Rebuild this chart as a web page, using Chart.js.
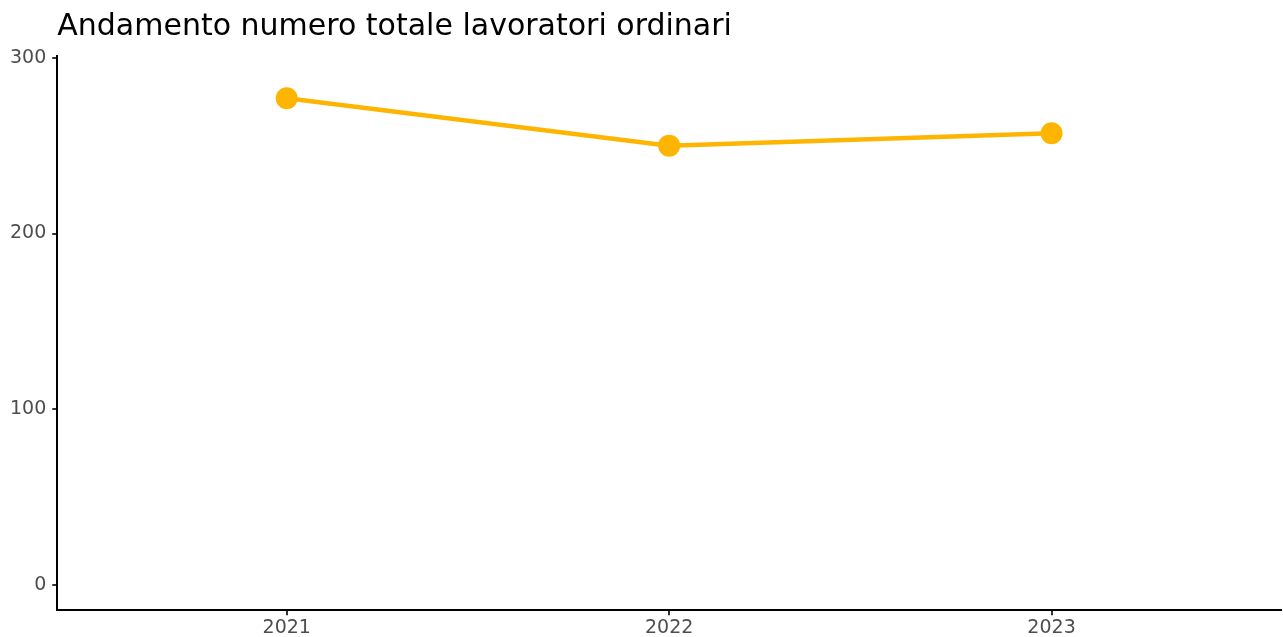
<!DOCTYPE html>
<html lang="it">

<head>
    <meta charset="UTF-8" />
    <title>Andamento numero totale lavoratori ordinari</title>
    <script src="https://cdn.jsdelivr.net/npm/chart.js"></script>
    <style>
        body { margin: 0; background: #fff; }
        #wrap { width: 1283px; height: 637px; }
    </style>
</head>

<body>
    <div id="wrap"><canvas id="myChart"></canvas></div>

    <script>
        // dati
        const years = [2021, 2022, 2023];
        const lavoratori = [277, 250, 257];
        const yTicks = [0, 100, 200, 300];

        const orange = "#FDB502";
        const font = "'DejaVu Sans', sans-serif";

        const config = {
            type: "line",
            data: {
                datasets: [{
                    label: "Lavoratori ordinari",
                    data: years.map((y, i) => ({ x: y, y: lavoratori[i] })),
                    borderColor: orange,
                    backgroundColor: orange,
                    borderWidth: 4.5,
                    pointRadius: 11,
                    pointHoverRadius: 11,
                    pointBorderWidth: 0,
                }],
            },
            options: {
                responsive: true,
                maintainAspectRatio: false,
                animation: false,
                layout: { autoPadding: false, padding: { left: 4, right: 2, top: 0, bottom: -3 } },
                plugins: {
                    legend: { display: false },
                    tooltip: { enabled: false },
                    title: {
                        display: true,
                        fullSize: false,
                        align: "start",
                        text: "Andamento numero totale lavoratori ordinari",
                        color: "#000",
                        font: { family: font, size: 30, weight: "normal" },
                        padding: { top: 9, bottom: 11 },
                    },
                },
                scales: {
                    x: {
                        type: "linear",
                        min: 2020.4,
                        max: 2023.6,
                        afterBuildTicks: (axis) => { axis.ticks = years.map(v => ({ value: v })); },
                        afterFit: (axis) => { axis.paddingLeft = 0; axis.paddingRight = 0; },
                        ticks: {
                            color: "#4D4D4D",
                            font: { family: font, size: 19 },
                            padding: 1,
                            callback: (v) => String(v),
                            maxRotation: 0,
                        },
                        grid: { drawOnChartArea: false, drawTicks: true, tickLength: 5, color: "#333", lineWidth: 2 },
                        border: { display: true, color: "#000", width: 2 },
                    },
                    y: {
                        min: -14.3,
                        max: 301,
                        afterBuildTicks: (axis) => { axis.ticks = yTicks.map(v => ({ value: v })); },
                        ticks: {
                            color: "#4D4D4D",
                            font: { family: font, size: 19 },
                            padding: 6,
                        },
                        grid: { drawOnChartArea: false, drawTicks: true, tickLength: 5, color: "#333", lineWidth: 2 },
                        border: { display: true, color: "#000", width: 2 },
                    },
                },
            },
        };

        const myChart = new Chart(document.getElementById("myChart"), config);
    </script>
</body>

</html>
